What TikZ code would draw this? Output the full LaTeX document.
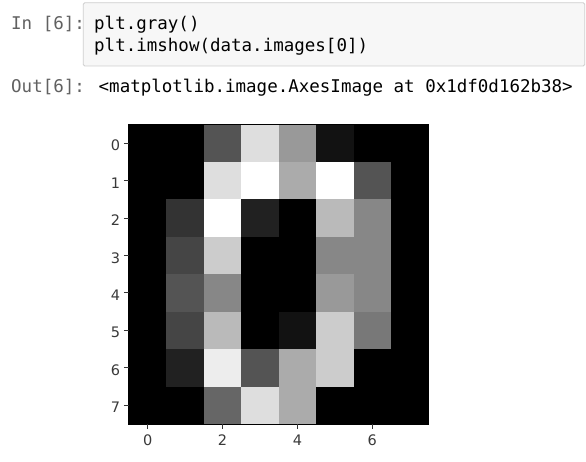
\documentclass[tikz,border=0pt]{standalone}
\usepackage{fontspec}
\setmainfont{DejaVu Sans}
\newfontfamily\codefont{DejaVu Sans Mono}
\definecolor{boxfill}{HTML}{F7F7F7}
\definecolor{boxborder}{HTML}{CFCFCF}
\definecolor{prompt}{HTML}{616161}
\definecolor{ticktext}{HTML}{3A3A3A}
\tikzset{
  codetext/.style={anchor=base west, inner sep=0pt, font=\codefont\fontsize{17.5}{22}\selectfont, text=black},
  prompttext/.style={anchor=base west, inner sep=0pt, font=\codefont\fontsize{17.5}{22}\selectfont, text=prompt},
  ticklabel/.style={inner sep=0pt, font=\fontsize{14.5}{16}\selectfont, text=ticktext},
  tickline/.style={draw=black!80, line width=0.9pt},
  spine/.style={draw=black, line width=0.9pt}
}
\begin{document}
\begin{tikzpicture}[x=1pt,y=-1pt]
\useasboundingbox (0,0) rectangle (586,462);
\fill[white] (0,0) rectangle (586,462);
% input cell
\draw[draw=boxborder, fill=boxfill, line width=0.8pt, rounded corners=1.5pt] (83.3,2.7) rectangle (584.7,66);
\node[prompttext] (inprompt) at (11,30) {In [6]:};
\node[codetext] (code1) at (94,30) {plt.gray()};
\node[codetext] (code2) at (94,52) {plt.imshow(data.images[0])};
\node[prompttext] (outprompt) at (11,93) {Out[6]:};
\node[codetext] (outtext) at (98.5,93) {<matplotlib.image.AxesImage at 0x1df0d162b38>};
% image
\def\xo{128.9}
\def\yo{124.4}
\def\cs{37.45}
\foreach \row [count=\r from 0] in {{0,0,5,13,9,1,0,0},{0,0,13,15,10,15,5,0},{0,3,15,2,0,11,8,0},{0,4,12,0,0,8,8,0},{0,5,8,0,0,9,8,0},{0,4,11,0,1,12,7,0},{0,2,14,5,10,12,0,0},{0,0,6,13,10,0,0,0}}{
  \foreach \v [count=\c from 0] in \row {
    \pgfmathtruncatemacro\p{round(\v*100/15)}
    \fill[white!\p!black] ({\xo+\c*\cs},{\yo+\r*\cs}) rectangle ({\xo+(\c+1)*\cs+0.3},{\yo+(\r+1)*\cs+0.3});
  }
}
\draw[spine] (\xo,\yo) rectangle ({\xo+8*\cs},{\yo+8*\cs});
% ticks
\foreach \i in {0,...,7}{
  \draw[tickline] ({\xo-5},{\yo+(\i+0.5)*\cs}) -- (\xo,{\yo+(\i+0.5)*\cs});
  \node[ticklabel, anchor=east] (yl\i) at ({\xo-8.6},{\yo+(\i+0.5)*\cs+2.3}) {\i};
}
\foreach \i in {0,2,4,6}{
  \draw[tickline] ({\xo+(\i+0.5)*\cs},{\yo+8*\cs}) -- ({\xo+(\i+0.5)*\cs},{\yo+8*\cs+5});
  \node[ticklabel, anchor=north] (xl\i) at ({\xo+(\i+0.5)*\cs},{\yo+8*\cs+10.5}) {\i};
}
\end{tikzpicture}
\end{document}
